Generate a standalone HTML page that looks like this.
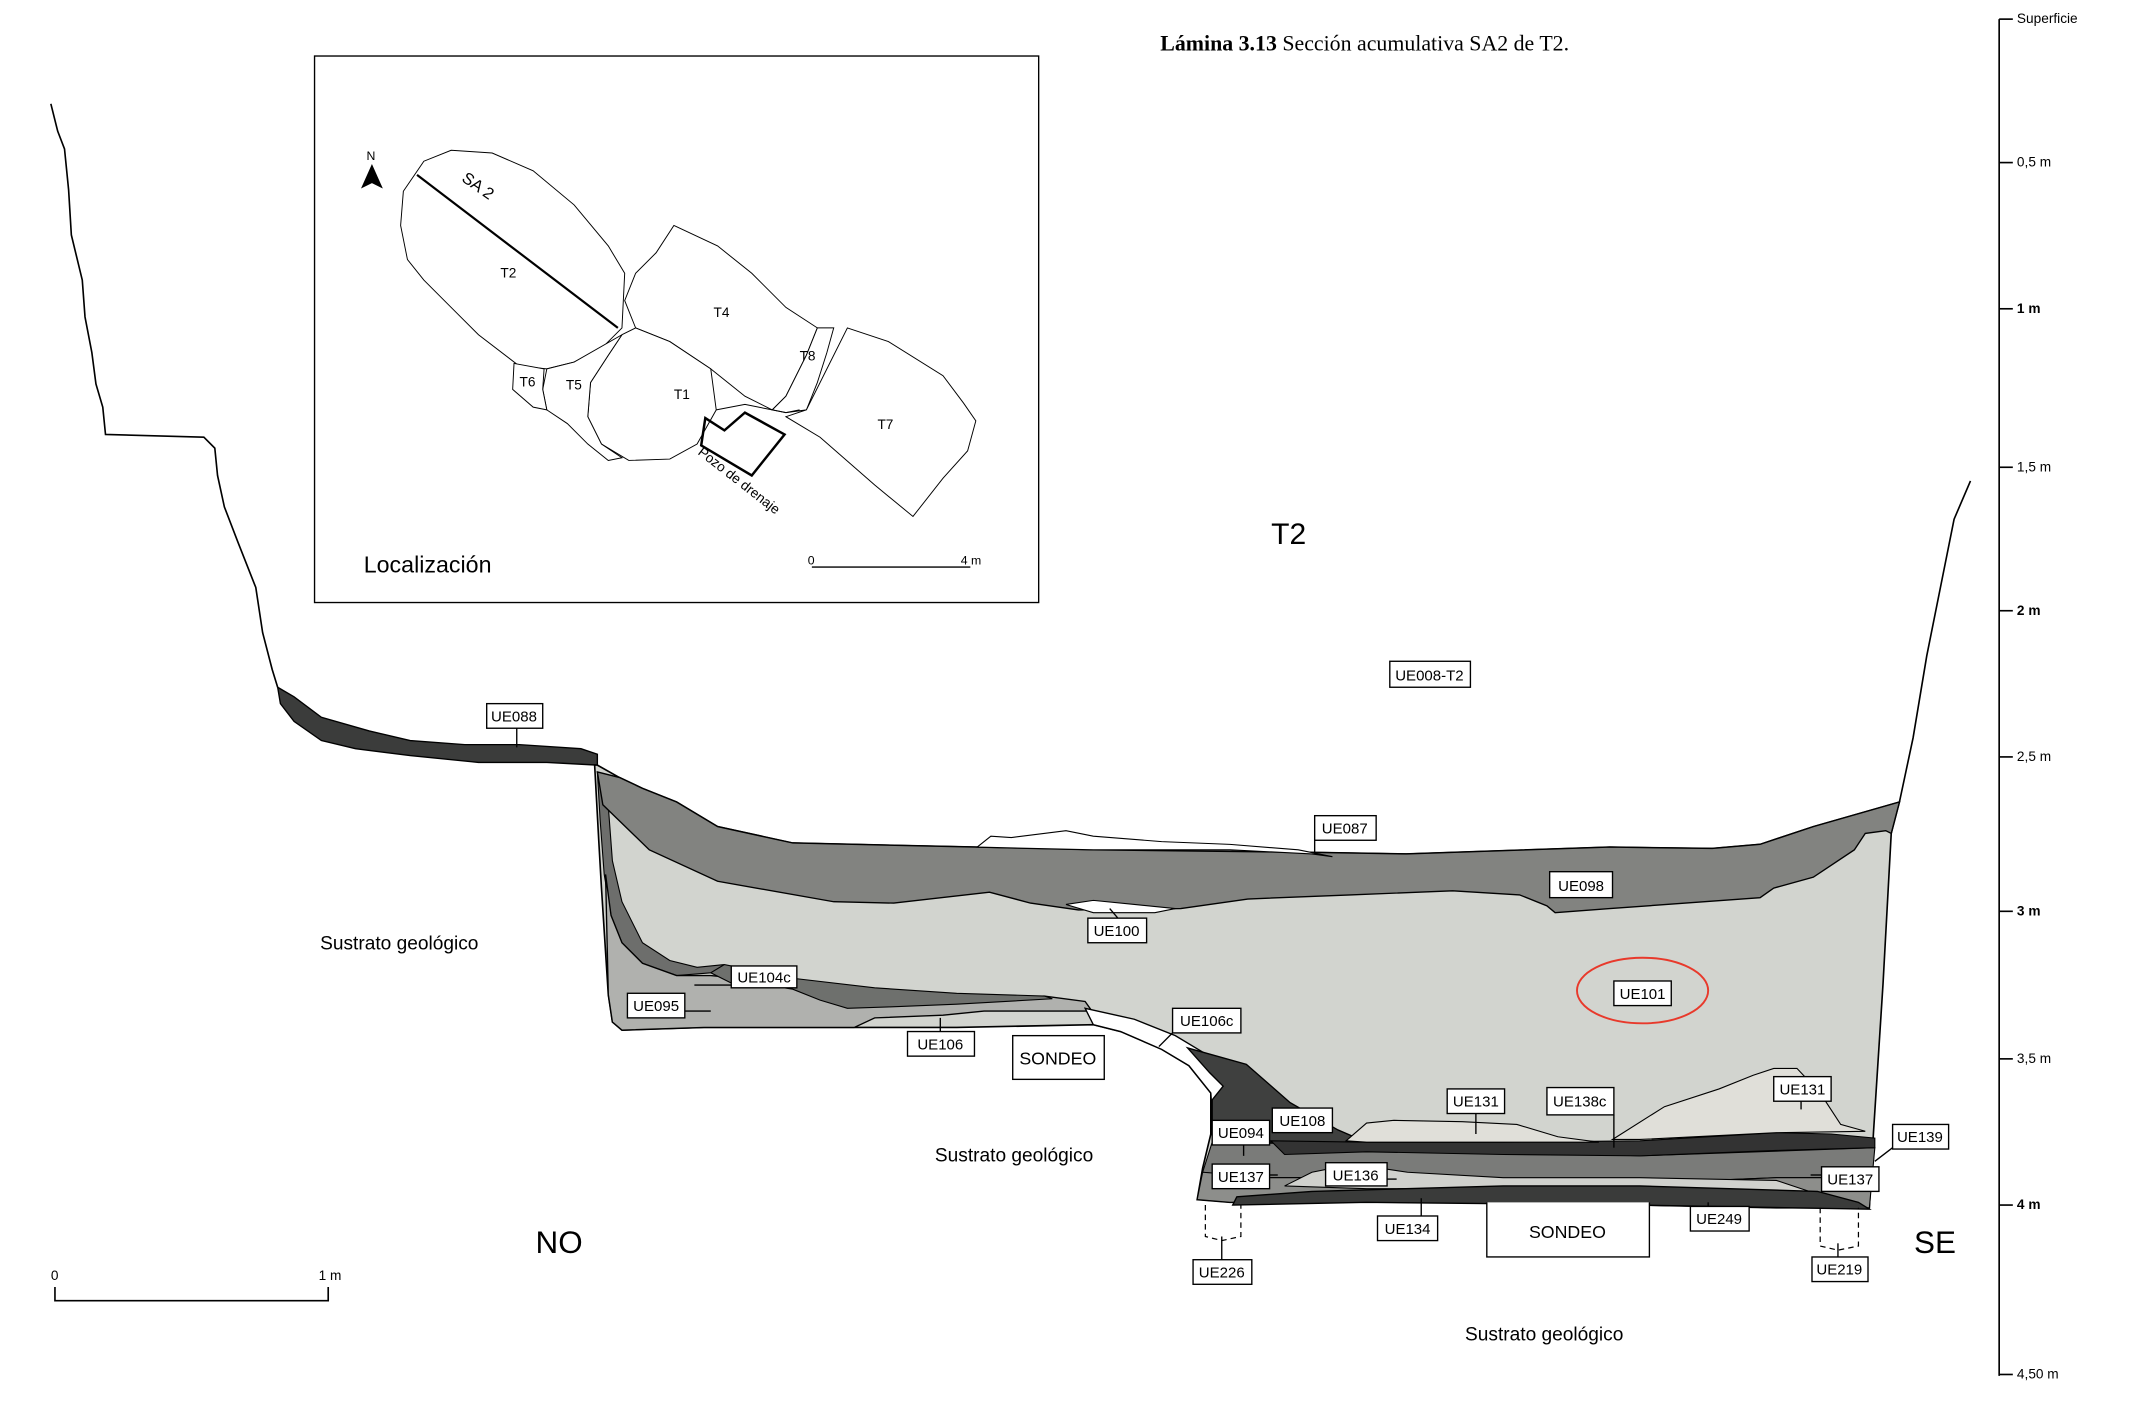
<!DOCTYPE html>
<html><head><meta charset="utf-8"><style>
html,body{margin:0;padding:0;background:#fff;}
svg{display:block;}
text{font-family:"Liberation Sans",sans-serif;}
.lb{font-size:11px;}
</style></head><body>
<svg width="2132" height="1410" viewBox="0 0 1560 1032" xmlns="http://www.w3.org/2000/svg">
<rect width="1560" height="1032" fill="#fff"/>
<!-- title -->
<text x="849" y="37" style="font-family:'Liberation Serif',serif;font-size:16px"><tspan font-weight="bold">Lámina 3.13</tspan>  Sección acumulativa SA2 de T2.</text>
<!-- right depth scale -->
<g stroke="#000" stroke-width="1.2" fill="none">
<line x1="1463" y1="14" x2="1463" y2="1007"/>
<line x1="1463" y1="14" x2="1473" y2="14"/><line x1="1463" y1="119" x2="1473" y2="119"/>
<line x1="1463" y1="226" x2="1473" y2="226"/><line x1="1463" y1="342" x2="1473" y2="342"/>
<line x1="1463" y1="447" x2="1473" y2="447"/><line x1="1463" y1="554" x2="1473" y2="554"/>
<line x1="1463" y1="667" x2="1473" y2="667"/><line x1="1463" y1="775" x2="1473" y2="775"/>
<line x1="1463" y1="882" x2="1473" y2="882"/><line x1="1463" y1="1006" x2="1473" y2="1006"/>
</g>
<g font-size="10">
<text x="1476" y="17">Superficie</text><text x="1476" y="122">0,5 m</text>
<text x="1476" y="229" font-weight="bold">1 m</text><text x="1476" y="345">1,5 m</text>
<text x="1476" y="450" font-weight="bold">2 m</text><text x="1476" y="557">2,5 m</text>
<text x="1476" y="670" font-weight="bold">3 m</text><text x="1476" y="778">3,5 m</text>
<text x="1476" y="885" font-weight="bold">4 m</text><text x="1476" y="1009">4,50 m</text>
</g>
<!-- inset -->
<rect x="230" y="41" width="530" height="400" fill="#fff" stroke="#000" stroke-width="1"/>
<g fill="#fff" stroke="#000" stroke-width="0.7">
<path d="M295,140 L310,118 L330,110 L360,112 L390,125 L420,150 L445,180 L457,200 L455,240 L440,255 L420,265 L400,270 L380,268 L350,245 L330,225 L310,205 L298,190 L293,165Z"/>
<path d="M493,165 L525,180 L550,200 L575,225 L598,240 L590,260 L575,290 L565,300 L545,290 L520,270 L490,250 L465,240 L457,220 L465,200 L480,185Z"/>
<path d="M455,245 L465,240 L490,250 L520,270 L524,300 L510,325 L490,336 L460,337 L440,325 L430,305 L432,280 L445,260Z"/>
<path d="M400,270 L420,265 L455,245 L445,260 L432,280 L430,305 L440,325 L455,335 L445,337 L430,325 L415,310 L400,300 L397,285Z"/>
<path d="M376,266 L398,270 L397,285 L400,300 L390,298 L375,285Z"/>
<path d="M598,240 L610,240 L605,258 L598,280 L590,300 L575,302 L565,300 L575,290 L590,260Z"/>
<path d="M620,240 L650,250 L690,275 L705,295 L714,308 L708,330 L690,350 L668,378 L640,355 L600,320 L575,305 L590,300 L605,270Z"/>
<path d="M524,300 L545,296 L565,300 L575,302 L585,300" fill="none"/>
</g>
<line x1="305" y1="128" x2="452" y2="240" stroke="#000" stroke-width="1.6"/>
<path d="M516,306 L530,315 L545,302 L574,318 L550,348 L513,326Z" fill="none" stroke="#000" stroke-width="1.8"/>
<g font-size="10">
<text x="366" y="203">T2</text><text x="522" y="232">T4</text><text x="493" y="292">T1</text>
<text x="414" y="285">T5</text><text x="380" y="283">T6</text><text x="585" y="264">T8</text><text x="642" y="314">T7</text>
<text x="268" y="117" font-size="9">N</text>
<text transform="translate(510,332) rotate(38)" font-size="10">Pozo de drenaje</text>
<text transform="translate(337,132) rotate(35)" font-size="12">SA 2</text>
</g>
<path d="M272,120 L280,138 L272,134 L264,138Z" fill="#000"/>
<text x="266" y="419" font-size="17">Localización</text>
<text x="591" y="413" font-size="9">0</text><text x="703" y="413" font-size="9">4 m</text>
<line x1="594" y1="415" x2="710" y2="415" stroke="#000" stroke-width="1"/>
<!-- left profile -->
<path d="M37,76 L42,96 L47,109 L50,139 L52,172 L60,205 L62,232 L67,258 L70,281 L75,298 L77,318 L149,320 L157,328 L159,348 L164,371 L174,397 L187,430 L192,463 L199,490 L203,503" fill="none" stroke="#000" stroke-width="1.2"/>
<!-- UE088 -->
<path d="M203,503 L215,510 L235,525 L270,535 L300,542 L340,545 L380,545 L425,548 L437,552 L437,560 L400,558 L350,558 L300,553 L260,548 L235,542 L215,528 L205,515Z" fill="#3b3c3b" stroke="#000" stroke-width="1"/>
<!-- right wall -->
<path d="M1390,587 L1400,540 L1410,480 L1420,430 L1430,380 L1442,352" fill="none" stroke="#000" stroke-width="1.2"/>
<!-- UE101 main pit fill -->
<path d="M437,560 L453,569 L470,577 L495,587 L525,605 L580,617 L714,620 L800,622 L969,624 L1029,625 L1178,620 L1253,621 L1288,618 L1327,605 L1390,587 L1384,610 L1378,720 L1371,829 L1368,884 L1300,884 L1200,882 L1100,880 L1000,878 L900,880 L876,878 L880,855 L886,830 L886,800 L870,780 L850,768 L820,755 L800,750 L700,752 L625,752 L515,752 L455,754 L448,748 L445,728 L440,650 L438,615 L435,560Z" fill="#d2d4cf" stroke="#000" stroke-width="1.2"/>
<!-- left wall dark sliver -->
<path d="M437,565 L445,590 L448,630 L455,660 L470,690 L490,703 L510,708 L530,706 L520,712 L495,714 L470,705 L455,690 L447,670 L442,640 L439,600Z" fill="#6d6e6c" stroke="#000" stroke-width="0.8"/>
<!-- UE095 / UE104c -->
<path d="M443,640 L447,670 L455,690 L470,705 L495,714 L520,714 L560,718 L600,728 L650,734 L700,733 L764,729 L794,733 L799,740 L770,740 L720,740 L690,743 L640,745 L625,752 L515,752 L455,754 L448,748 L445,728Z" fill="#b0b1ae" stroke="#000" stroke-width="1"/>
<path d="M520,712 L530,706 L580,716 L640,723 L700,727 L764,729 L770,731 L700,735 L650,737 L620,738 L600,732 L580,724 L555,720 L540,722Z" fill="#6e706d" stroke="#000" stroke-width="0.8"/>
<!-- UE098 -->
<path d="M437,565 L453,569 L470,577 L495,587 L525,605 L580,617 L714,620 L800,622 L969,624 L1029,625 L1178,620 L1253,621 L1288,618 L1327,605 L1390,587 L1384,610 L1380,608 L1365,610 L1357,622 L1327,642 L1298,650 L1288,657 L1178,665 L1138,668 L1132,663 L1112,655 L1063,652 L988,655 L913,658 L864,665 L789,666 L754,661 L724,653 L654,661 L610,660 L525,645 L475,622 L441,589Z" fill="#828380" stroke="#000" stroke-width="1"/>
<!-- white lenses -->
<path d="M715,620 L725,612 L740,613 L780,608 L800,612 L850,616 L900,618 L950,622 L975,627 L960,625 L900,622 L800,622Z" fill="#fff" stroke="#000" stroke-width="0.8"/>
<path d="M780,662 L800,659 L830,662 L860,665 L845,668 L800,668Z" fill="#fff" stroke="#000" stroke-width="0.8"/>
<!-- UE106c white strip -->
<path d="M794,738 L830,746 L860,758 L880,770 L905,785 L920,810 L910,822 L888,830 L886,800 L870,780 L850,768 L820,755 L800,750Z" fill="#fff" stroke="#000" stroke-width="1"/>
<!-- UE108 -->
<path d="M869,767 L912,779 L944,807 L979,827 L1000,836 L930,836 L887,832 L887,805 L895,795 L885,785Z" fill="#3f403f" stroke="#000" stroke-width="1"/>
<!-- lower layers -->
<path d="M887,836 L1000,838 L1200,846 L1372,840 L1370,862 L1300,862 L1200,866 L1100,866 L1000,862 L930,862 L880,858Z" fill="#7a7b79" stroke="#000" stroke-width="0.8"/>
<path d="M880,858 L930,862 L1000,862 L1100,866 L1200,866 L1300,862 L1370,862 L1368,884 L1300,884 L1200,882 L1100,880 L1000,878 L900,880 L876,878Z" fill="#8d8e8b" stroke="#000" stroke-width="0.8"/>
<path d="M940,868 L960,858 L990,852 L1030,858 L1100,862 L1200,862 L1300,864 L1330,874 L1200,872 L1100,870 L1000,870Z" fill="#d0d1cd" stroke="#000" stroke-width="0.8"/>
<path d="M905,876 L960,872 L1100,868 L1200,868 L1330,872 L1360,880 L1368,885 L1200,882 L1000,880 L902,882Z" fill="#3a3b3a" stroke="#000" stroke-width="1"/>
<path d="M930,835 L1000,836 L1100,836 L1200,835 L1300,829 L1340,830 L1372,833 L1372,840 L1300,842 L1200,846 L1100,845 L1000,843 L940,845Z" fill="#333" stroke="#000" stroke-width="0.8"/>
<path d="M985,835 L1000,822 L1020,820 L1070,821 L1110,823 L1140,832 L1170,836 L1000,836Z" fill="#e0dfd9" stroke="#000" stroke-width="0.8"/>
<path d="M1180,834 L1218,810 L1258,797 L1283,787 L1298,782 L1315,782 L1332,800 L1347,823 L1365,828 L1300,829 L1200,834Z" fill="#e0dfd9" stroke="#000" stroke-width="0.8"/>
<!-- dashed pits -->
<path d="M882,882 L882,905 L894,908 L908,905 L908,882" fill="none" stroke="#000" stroke-width="0.9" stroke-dasharray="4,3"/>
<path d="M1332,884 L1332,912 L1345,915 L1360,912 L1360,884" fill="none" stroke="#000" stroke-width="0.9" stroke-dasharray="4,3"/>
<!-- SONDEO boxes -->
<g fill="#fff" stroke="#000" stroke-width="1">
<rect x="741" y="758" width="67" height="32"/>
<path d="M1088,880 L1088,920 L1207,920 L1207,880"/>
</g>
<text x="774" y="779" font-size="13" text-anchor="middle">SONDEO</text>
<text x="1147" y="906" font-size="13" text-anchor="middle">SONDEO</text>
<!-- leaders -->
<g stroke="#000" stroke-width="1" fill="none">
<line x1="378" y1="533" x2="378" y2="547"/><line x1="962" y1="615" x2="962" y2="625"/>
<line x1="818" y1="672" x2="812" y2="665"/><line x1="508" y1="721" x2="535" y2="721"/>
<line x1="501" y1="740" x2="520" y2="740"/><line x1="688" y1="755" x2="688" y2="745"/>
<line x1="858" y1="756" x2="848" y2="766"/><line x1="1080" y1="815" x2="1080" y2="830"/>
<line x1="1181" y1="816" x2="1181" y2="840"/><line x1="1318" y1="806" x2="1318" y2="812"/>
<line x1="1385" y1="840" x2="1372" y2="850"/><line x1="910" y1="838" x2="910" y2="846"/>
<line x1="929" y1="860" x2="935" y2="860"/><line x1="1015" y1="863" x2="1022" y2="863"/>
<line x1="1333" y1="860" x2="1325" y2="860"/><line x1="1040" y1="890" x2="1040" y2="877"/>
<line x1="894" y1="922" x2="894" y2="905"/><line x1="1345" y1="920" x2="1345" y2="910"/>
<line x1="1250" y1="883" x2="1250" y2="880"/>
</g>
<!-- labels -->
<g fill="#fff" stroke="#000" stroke-width="1">
<rect x="356" y="515" width="41" height="18"/><rect x="962" y="597" width="45" height="18"/>
<rect x="1134" y="638" width="46" height="19"/><rect x="796" y="672" width="43" height="18"/>
<rect x="1181" y="718" width="42" height="18"/><rect x="535" y="707" width="48" height="16"/>
<rect x="459" y="727" width="42" height="18"/><rect x="664" y="755" width="49" height="18"/>
<rect x="858" y="738" width="50" height="18"/><rect x="1059" y="797" width="42" height="18"/>
<rect x="1132" y="796" width="49" height="20"/><rect x="1298" y="788" width="42" height="18"/>
<rect x="1385" y="823" width="41" height="18"/><rect x="931" y="811" width="44" height="18"/>
<rect x="887" y="820" width="42" height="18"/><rect x="887" y="852" width="42" height="18"/>
<rect x="970" y="851" width="45" height="17"/><rect x="1333" y="854" width="42" height="18"/>
<rect x="1008" y="890" width="44" height="18"/><rect x="1237" y="883" width="43" height="18"/>
<rect x="873" y="922" width="43" height="18"/><rect x="1326" y="920" width="41" height="18"/>
<rect x="1017" y="484" width="59" height="19"/>
</g>
<g class="lb" text-anchor="middle">
<text x="376" y="528">UE088</text><text x="984" y="610">UE087</text><text x="1157" y="652">UE098</text>
<text x="817" y="685">UE100</text><text x="1202" y="731">UE101</text><text x="559" y="719">UE104c</text>
<text x="480" y="740">UE095</text><text x="688" y="768">UE106</text><text x="883" y="751">UE106c</text>
<text x="1080" y="810">UE131</text><text x="1156" y="810">UE138c</text><text x="1319" y="801">UE131</text>
<text x="1405" y="836">UE139</text><text x="953" y="824">UE108</text><text x="908" y="833">UE094</text>
<text x="908" y="865">UE137</text><text x="992" y="864">UE136</text><text x="1354" y="867">UE137</text>
<text x="1030" y="903">UE134</text><text x="1258" y="896">UE249</text><text x="894" y="935">UE226</text>
<text x="1346" y="933">UE219</text><text x="1046" y="498">UE008-T2</text>
</g>
<ellipse cx="1202" cy="725" rx="48" ry="24" fill="none" stroke="#e8392b" stroke-width="1.4"/>
<!-- big text -->
<text x="943" y="398" font-size="22" text-anchor="middle">T2</text>
<g font-size="14" text-anchor="middle">
<text x="292" y="695">Sustrato geológico</text>
<text x="742" y="850">Sustrato geológico</text>
<text x="1130" y="981">Sustrato geológico</text>
</g>
<text x="409" y="917" font-size="23" text-anchor="middle">NO</text>
<text x="1416" y="917" font-size="23" text-anchor="middle">SE</text>
<!-- bottom-left scale -->
<path d="M40,942 L40,952 L240,952 L240,942" fill="none" stroke="#000" stroke-width="1.2"/>
<text x="37" y="937" font-size="10">0</text><text x="233" y="937" font-size="10">1 m</text>
</svg>
</body></html>
